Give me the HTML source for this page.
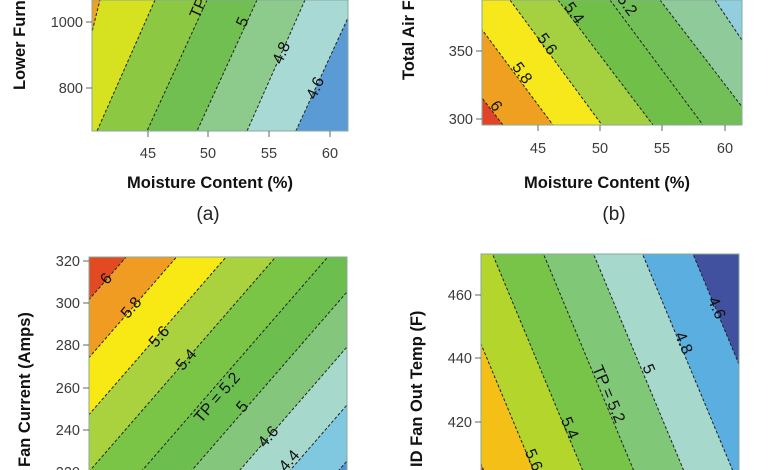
<!DOCTYPE html>
<html><head><meta charset="utf-8"><style>
html,body{margin:0;padding:0;background:#fff;width:780px;height:470px;overflow:hidden;}
svg{display:block;font-family:"Liberation Sans",sans-serif;}
.t{font-size:14.5px;fill:#3a3a3a;}
.ax{font-size:16.5px;font-weight:bold;fill:#111;}
.cap{font-size:19px;fill:#222;}
.lb{font-size:16px;fill:#111;}
.d{stroke:#222;stroke-width:1;stroke-dasharray:3,2;fill:none;}
.tk{stroke:#666;stroke-width:1;}
</style></head><body>
<svg width="780" height="470" viewBox="0 0 780 470" xmlns="http://www.w3.org/2000/svg">
<defs>
<clipPath id="ca"><rect x="92" y="0" width="256" height="131"/></clipPath>
<clipPath id="cb"><rect x="482" y="0" width="260" height="125"/></clipPath>
<clipPath id="cc"><rect x="89" y="257" width="258" height="220"/></clipPath>
<clipPath id="cd"><rect x="481" y="254" width="258" height="220"/></clipPath>
</defs>

<!-- Panel a -->
<g clip-path="url(#ca)">
<rect x="92" y="0" width="256" height="131" fill="#5b9bd5"/>
<polygon points="364,-17 288,148 0,148 0,-17" fill="#a9d9d4"/>
<polygon points="305,0 247,131 0,131 0,0" fill="#8dcb8d"/>
<polygon points="257,0 197,131 0,131 0,0" fill="#70bf50"/>
<polygon points="207,0 147,131 0,131 0,0" fill="#8cc842"/>
<polygon points="155,0 97,131 0,131 0,0" fill="#d6e220"/>
<polygon points="100,0 92,32 80,80 0,0" fill="#f0a020"/>
<line class="d" x1="104" y1="-16" x2="88" y2="48"/>
<line class="d" x1="155" y1="0" x2="97" y2="131"/>
<line class="d" x1="207" y1="0" x2="147" y2="131"/>
<line class="d" x1="257" y1="0" x2="197" y2="131"/>
<line class="d" x1="305" y1="0" x2="247" y2="131"/>
<line class="d" x1="364" y1="-17" x2="288" y2="148"/>
</g>
<rect x="92" y="0" width="256" height="131" fill="none" stroke="#8a9" stroke-width="1"/>
<g class="lb">
<text transform="translate(203,10) rotate(-66)" text-anchor="middle">TP</text>
<text transform="translate(247,24) rotate(-66)" text-anchor="middle">5</text>
<text transform="translate(286,55) rotate(-66)" text-anchor="middle">4.8</text>
<text transform="translate(320,90) rotate(-66)" text-anchor="middle">4.6</text>
</g>
<g class="tk"><line x1="86" y1="22" x2="92" y2="22"/><line x1="86" y1="88" x2="92" y2="88"/>
<line x1="148" y1="131" x2="148" y2="137"/><line x1="208" y1="131" x2="208" y2="137"/><line x1="269" y1="131" x2="269" y2="137"/><line x1="330" y1="131" x2="330" y2="137"/></g>
<g class="t"><text x="83" y="27" text-anchor="end">1000</text><text x="83" y="93" text-anchor="end">800</text>
<text x="148" y="158" text-anchor="middle">45</text><text x="208" y="158" text-anchor="middle">50</text><text x="269" y="158" text-anchor="middle">55</text><text x="330" y="158" text-anchor="middle">60</text></g>
<text class="ax" x="210" y="188" text-anchor="middle">Moisture Content (%)</text>
<text class="ax" transform="translate(25,90) rotate(-90)">Lower Furnace</text>
<text class="cap" x="208" y="220" text-anchor="middle">(a)</text>

<!-- Panel b -->
<g clip-path="url(#cb)">
<rect x="482" y="0" width="260" height="125" fill="#92cde0"/>
<polygon points="715,0 799,125 400,125 400,0" fill="#8fcb9a"/>
<polygon points="660,0 756,125 400,125 400,0" fill="#72bf58"/>
<polygon points="610,0 703,125 400,125 400,0" fill="#6fbf48"/>
<polygon points="558,0 653,125 400,125 400,0" fill="#a5d040"/>
<polygon points="510,0 602,125 400,125 400,0" fill="#f6e81a"/>
<polygon points="460,0 553,125 400,125 400,0" fill="#f0a020"/>
<polygon points="406,0 503,125 400,125 400,0" fill="#e0452a"/>
<line class="d" x1="715" y1="0" x2="799" y2="125"/>
<line class="d" x1="660" y1="0" x2="756" y2="125"/>
<line class="d" x1="610" y1="0" x2="703" y2="125"/>
<line class="d" x1="558" y1="0" x2="653" y2="125"/>
<line class="d" x1="510" y1="0" x2="602" y2="125"/>
<line class="d" x1="460" y1="0" x2="553" y2="125"/>
<line class="d" x1="406" y1="0" x2="503" y2="125"/>
</g>
<rect x="482" y="0" width="260" height="125" fill="none" stroke="#8a9" stroke-width="1"/>
<g class="lb">
<text transform="translate(570,16) rotate(54)" text-anchor="middle">5.4</text>
<text transform="translate(623,8) rotate(54)" text-anchor="middle">5.2</text>
<text transform="translate(543,47) rotate(54)" text-anchor="middle">5.6</text>
<text transform="translate(518,76) rotate(54)" text-anchor="middle">5.8</text>
<text transform="translate(492,109) rotate(54)" text-anchor="middle">6</text>
</g>
<g class="tk"><line x1="476" y1="51" x2="482" y2="51"/><line x1="476" y1="119" x2="482" y2="119"/>
<line x1="538" y1="125" x2="538" y2="131"/><line x1="600" y1="125" x2="600" y2="131"/><line x1="662" y1="125" x2="662" y2="131"/><line x1="725" y1="125" x2="725" y2="131"/></g>
<g class="t"><text x="473" y="56" text-anchor="end">350</text><text x="473" y="124" text-anchor="end">300</text>
<text x="538" y="153" text-anchor="middle">45</text><text x="600" y="153" text-anchor="middle">50</text><text x="662" y="153" text-anchor="middle">55</text><text x="725" y="153" text-anchor="middle">60</text></g>
<text class="ax" x="607" y="188" text-anchor="middle">Moisture Content (%)</text>
<text class="ax" transform="translate(414,80) rotate(-90)">Total Air Flow</text>
<text class="cap" x="614" y="220" text-anchor="middle">(b)</text>

<!-- Panel c -->
<g clip-path="url(#cc)">
<rect x="89" y="257" width="258" height="220" fill="#5890d0"/>
<polygon points="0,860 400,400 400,0 0,0" fill="#80c8e0"/>
<polygon points="0,804 400,344 400,0 0,0" fill="#a6d8cc"/>
<polygon points="0,746 400,286 400,0 0,0" fill="#84c67c"/>
<polygon points="0,691 400,231 400,0 0,0" fill="#6cbf4e"/>
<polygon points="0,634 400,174 400,0 0,0" fill="#7ac446"/>
<polygon points="0,574 400,114 400,0 0,0" fill="#aad23e"/>
<polygon points="0,517 400,57 400,0 0,0" fill="#f8e814"/>
<polygon points="0,460 400,0 400,0 0,0" fill="#f09c22"/>
<polygon points="0,402 400,-58 400,-100 0,-100" fill="#e24a24"/>
<line class="d" x1="0" y1="860" x2="400" y2="400"/>
<line class="d" x1="0" y1="804" x2="400" y2="344"/>
<line class="d" x1="0" y1="746" x2="400" y2="286"/>
<line class="d" x1="0" y1="691" x2="400" y2="231"/>
<line class="d" x1="0" y1="634" x2="400" y2="174"/>
<line class="d" x1="0" y1="574" x2="400" y2="114"/>
<line class="d" x1="0" y1="517" x2="400" y2="57"/>
<line class="d" x1="0" y1="460" x2="400" y2="0"/>
<line class="d" x1="0" y1="402" x2="400" y2="-58"/>
</g>
<rect x="89" y="257" width="258" height="220" fill="none" stroke="#8a9" stroke-width="1"/>
<g class="lb">
<text transform="translate(110,282) rotate(-49)" text-anchor="middle">6</text>
<text transform="translate(135,311) rotate(-49)" text-anchor="middle">5.8</text>
<text transform="translate(163,340) rotate(-49)" text-anchor="middle">5.6</text>
<text transform="translate(190,363) rotate(-49)" text-anchor="middle">5.4</text>
<text transform="translate(221,401) rotate(-49)" text-anchor="middle">TP = 5.2</text>
<text transform="translate(246,410) rotate(-49)" text-anchor="middle">5</text>
<text transform="translate(272,440) rotate(-49)" text-anchor="middle">4.6</text>
<text transform="translate(293,464) rotate(-49)" text-anchor="middle">4.4</text>
</g>
<g class="tk"><line x1="83" y1="261" x2="89" y2="261"/><line x1="83" y1="303" x2="89" y2="303"/><line x1="83" y1="345" x2="89" y2="345"/><line x1="83" y1="388" x2="89" y2="388"/><line x1="83" y1="430" x2="89" y2="430"/><line x1="83" y1="472" x2="89" y2="472"/></g>
<g class="t"><text x="80" y="266" text-anchor="end">320</text><text x="80" y="308" text-anchor="end">300</text><text x="80" y="350" text-anchor="end">280</text><text x="80" y="393" text-anchor="end">260</text><text x="80" y="435" text-anchor="end">240</text><text x="80" y="477" text-anchor="end">220</text></g>
<text class="ax" transform="translate(30,467) rotate(-90)">Fan Current (Amps)</text>

<!-- Panel d -->
<g clip-path="url(#cd)">
<rect x="481" y="254" width="258" height="220" fill="#4250a0"/>
<polygon points="670.5,200 795.5,500 0,500 0,200" fill="#5aaee0"/>
<polygon points="620,200 745,500 0,500 0,200" fill="#a6d8cc"/>
<polygon points="571,200 696,500 0,500 0,200" fill="#80c878"/>
<polygon points="521,200 646,500 0,500 0,200" fill="#78c448"/>
<polygon points="470,200 595,500 0,500 0,200" fill="#b4d62c"/>
<polygon points="421,200 546,500 0,500 0,200" fill="#f4c018"/>
<polygon points="371,200 496,500 0,500 0,200" fill="#d84030"/>
<line class="d" x1="670.5" y1="200" x2="795.5" y2="500"/>
<line class="d" x1="620" y1="200" x2="745" y2="500"/>
<line class="d" x1="571" y1="200" x2="696" y2="500"/>
<line class="d" x1="521" y1="200" x2="646" y2="500"/>
<line class="d" x1="470" y1="200" x2="595" y2="500"/>
<line class="d" x1="421" y1="200" x2="546" y2="500"/>
<line class="d" x1="371" y1="200" x2="496" y2="500"/>
</g>
<rect x="481" y="254" width="258" height="220" fill="none" stroke="#8a9" stroke-width="1"/>
<g class="lb">
<text transform="translate(712,310) rotate(67)" text-anchor="middle">4.6</text>
<text transform="translate(679,345) rotate(67)" text-anchor="middle">4.8</text>
<text transform="translate(644,371) rotate(67)" text-anchor="middle">5</text>
<text transform="translate(604,396) rotate(67)" text-anchor="middle">TP = 5.2</text>
<text transform="translate(565,430) rotate(67)" text-anchor="middle">5.4</text>
<text transform="translate(529,462) rotate(67)" text-anchor="middle">5.6</text>
</g>
<g class="tk"><line x1="475" y1="295" x2="481" y2="295"/><line x1="475" y1="358" x2="481" y2="358"/><line x1="475" y1="422" x2="481" y2="422"/></g>
<g class="t"><text x="472" y="300" text-anchor="end">460</text><text x="472" y="363" text-anchor="end">440</text><text x="472" y="427" text-anchor="end">420</text></g>
<text class="ax" transform="translate(422,467) rotate(-90)">ID Fan Out Temp (F)</text>
</svg>
</body></html>
